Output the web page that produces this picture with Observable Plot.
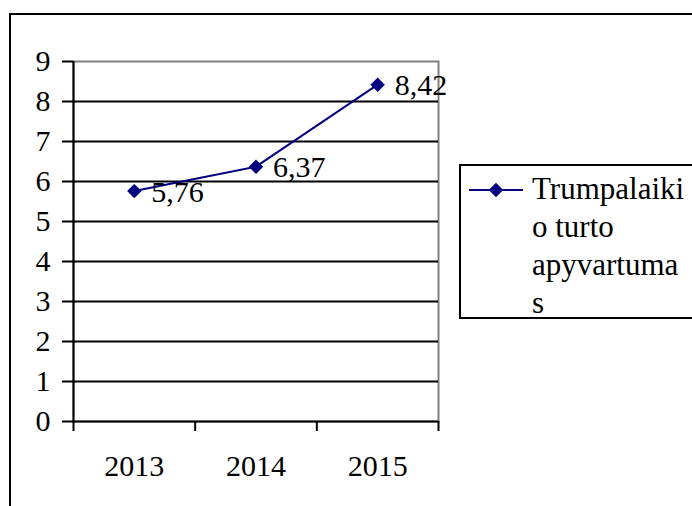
<!DOCTYPE html>
<html>
<head>
<meta charset="utf-8">
<script src="https://cdn.jsdelivr.net/npm/d3@7"></script>
<script src="https://cdn.jsdelivr.net/npm/@observablehq/plot@0.6"></script>
<style>
  html, body { margin: 0; padding: 0; background: #fff; }
  #wrap { position: relative; width: 692px; height: 506px; overflow: hidden; font-family: 'Liberation Serif', serif; }
  #outer { position: absolute; left: 9px; top: 13px; width: 800px; height: 600px; border-left: 2px solid #000; border-top: 2px solid #000; }
  #chart { position: absolute; left: 0; top: 0; }
  #legend { position: absolute; left: 459px; top: 164px; width: 300px; height: 151px; border: 2px solid #000; background: #fff; }
  #legend svg { position: absolute; left: 8px; top: 15px; }
  #legend .txt { position: absolute; left: 71px; top: 4px; font-family: 'Liberation Serif', serif; font-size: 31px; line-height: 38px; color: #000; white-space: nowrap; }
</style>
</head>
<body>
<div id="wrap">
  <div id="outer"></div>
  <div id="chart"></div>
  <div id="legend"></div>
</div>
<script>
// Short-term asset turnover by year
const years = [2013, 2014, 2015];
const values = [5.76, 6.37, 8.42];
const yTicks = [0, 1, 2, 3, 4, 5, 6, 7, 8, 9];
const seriesName = "Trumpalaikio turto apyvartumas";
const legendLines = ["Trumpalaiki", "o turto", "apyvartuma", "s"];

const navy = "#000080";
const serif = "'Liberation Serif', serif";
const data = years.map((year, i) => ({year, value: values[i]}));
// category boundaries: years are centred in unit-wide bands
const boundaries = [years[0] - 0.5, ...years.map(y => y + 0.5)];
const fmt = v => v.toFixed(2).replace(".", ",");

const chart = Plot.plot({
  width: 692,
  height: 506,
  marginLeft: 73,
  marginRight: 254,
  marginTop: 61,
  marginBottom: 85,
  style: {fontFamily: serif, background: "transparent", color: "#000"},
  x: {type: "linear", domain: [boundaries[0], boundaries[boundaries.length - 1]]},
  y: {domain: [0, 9]},
  marks: [
    Plot.frame({stroke: "#808080", strokeWidth: 2}),
    Plot.ruleY(yTicks.filter(v => v > 0 && v < 9), {stroke: "#000", strokeWidth: 2}),
    Plot.ruleY([0], {stroke: "#000", strokeWidth: 2}),
    Plot.ruleX([boundaries[0]], {stroke: "#000", strokeWidth: 2}),
    Plot.axisY({ticks: yTicks, tickSize: 11, tickPadding: 12, fontSize: 30, fontFamily: serif, strokeWidth: 2, label: null, tickFormat: d => String(d)}),
    Plot.axisX({ticks: boundaries, tickSize: 10, strokeWidth: 2, tickFormat: () => "", label: null}),
    Plot.axisX({ticks: years, tickSize: 0, tickPadding: 33, fontSize: 30, fontFamily: serif, tickFormat: d => String(d), label: null}),
    Plot.line(data, {x: "year", y: "value", stroke: navy, strokeWidth: 2}),
    Plot.dot(data, {x: "year", y: "value", symbol: "diamond2", r: 6.5, fill: navy, stroke: "none"}),
    Plot.text(data, {x: "year", y: "value", text: d => fmt(d.value), dx: 17, dy: 1, textAnchor: "start", fontSize: 30, fontFamily: serif, fill: "#000"})
  ]
});
document.getElementById("chart").appendChild(chart);

// legend: line sample with marker, then the wrapped series name
const legend = document.getElementById("legend");
const sw = d3.create("svg").attr("width", 56).attr("height", 18);
sw.append("line").attr("x1", 0).attr("x2", 54).attr("y1", 9).attr("y2", 9).attr("stroke", navy).attr("stroke-width", 2);
sw.append("path").attr("transform", "translate(27,9)").attr("d", d3.symbol(d3.symbolDiamond2, Math.PI * 6.5 * 6.5)()).attr("fill", navy);
legend.appendChild(sw.node());
const txt = document.createElement("div");
txt.className = "txt";
txt.title = seriesName;
txt.innerHTML = legendLines.join("<br>");
legend.appendChild(txt);
</script>
</body>
</html>
